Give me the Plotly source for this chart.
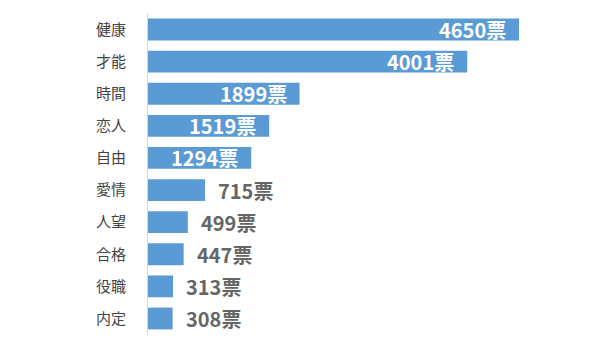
import plotly.graph_objects as go

categories = ["健康", "才能", "時間", "恋人", "自由", "愛情", "人望", "合格", "役職", "内定"]
votes = [4650, 4001, 1899, 1519, 1294, 715, 499, 447, 313, 308]
unit = "票"
inside_threshold = 1000

fig = go.Figure()
fig.add_trace(go.Bar(
    y=categories, x=votes, orientation="h",
    marker=dict(color="#5B9BD5", line=dict(width=0)),
    hoverinfo="skip",
))

annotations = []
for c, v in zip(categories, votes):
    inside = v >= inside_threshold
    annotations.append(dict(
        x=v, y=c, xref="x", yref="y",
        text=f"<b>{v}{unit}</b>", showarrow=False,
        xanchor="right" if inside else "left",
        xshift=-11 if inside else 11,
        font=dict(family="Noto Sans CJK JP", size=20,
                  color="#FFFFFF" if inside else "#666666"),
    ))

fig.update_layout(
    width=600, height=344,
    margin=dict(l=148, r=20, t=13, b=9),
    paper_bgcolor="white", plot_bgcolor="white",
    bargap=0.32,
    showlegend=False,
    annotations=annotations,
    xaxis=dict(range=[0, 5414], visible=False, fixedrange=True),
    yaxis=dict(
        autorange="reversed", showgrid=False, zeroline=False,
        showline=True, linecolor="#D9D9D9", linewidth=1,
        ticks="", ticklabelstandoff=18,
        tickfont=dict(family="Noto Sans CJK JP", size=15, color="#444444"),
        fixedrange=True,
    ),
)

fig.write_html("out.html")
